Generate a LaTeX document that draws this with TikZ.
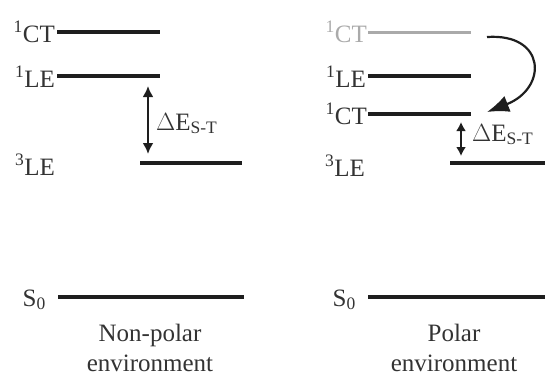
\documentclass[tikz,border=0pt]{standalone}
\usepackage{fontspec}
\setmainfont{Liberation Serif}
\usetikzlibrary{arrows.meta}
\definecolor{lvl}{HTML}{1E1E1E}
\definecolor{txt}{HTML}{333333}
\definecolor{faint}{HTML}{AAAAAA}
\tikzset{
  level/.style={line width=3.6pt, lvl},
  faintlevel/.style={line width=3pt, faint},
  lab/.style={font=\fontsize{25}{27}\selectfont, text=txt, inner sep=0pt, anchor=base east},
  captext/.style={font=\fontsize{25}{30}\selectfont, text=txt, inner sep=0pt, align=center},
  gap/.style={line width=2.6pt, lvl, {Latex[length=11pt,width=11pt]}-{Latex[length=11pt,width=11pt]}},
  smallgap/.style={line width=2.4pt, lvl, {Latex[length=9pt,width=10pt]}-{Latex[length=9pt,width=10pt]}},
  relax/.style={line width=2.2pt, lvl, -{Latex[length=22pt,width=17pt]}},
  dE/.style={font=\fontsize{25}{27}\selectfont, text=txt, inner sep=0pt, anchor=base west}
}
\begin{document}
\begin{tikzpicture}[x=1pt,y=-1pt]
\useasboundingbox (0,0) rectangle (545,376);
% ---------- Non-polar ----------
\coordinate (ctA) at (57,32);  \coordinate (ctB) at (160,32);
\coordinate (leA) at (57,76);  \coordinate (leB) at (160,76);
\coordinate (tA) at (140,163); \coordinate (tB) at (242,163);
\coordinate (sA) at (58,297);  \coordinate (sB) at (244,297);
\draw[level] (ctA) -- (ctB);
\draw[level] (leA) -- (leB);
\draw[level] (tA) -- (tB);
\draw[level] (sA) -- (sB);
\node[lab] (lct) at (55,42) {\textsuperscript{1}CT};
\node[lab] (lle) at (55,87) {\textsuperscript{1}LE};
\node[lab] (lt) at (55,175) {\textsuperscript{3}LE};
\node[lab] (ls) at (46,306) {S\textsubscript{0}};
\coordinate (g1) at (148,86); \coordinate (g2) at (148,154);
\draw[gap] (g1) -- (g2);
\node[dE] (de1) at (156,130) {$\Delta$E\textsubscript{S-T}};
\node[captext] (np) at (150,348) {Non-polar\\environment};
% ---------- Polar ----------
\coordinate (pctA) at (368,32); \coordinate (pctB) at (471,32);
\coordinate (pleA) at (368,76); \coordinate (pleB) at (471,76);
\coordinate (pct2A) at (368,114); \coordinate (pct2B) at (471,114);
\coordinate (ptA) at (450,163); \coordinate (ptB) at (545,163);
\coordinate (psA) at (368,297); \coordinate (psB) at (545,297);
\draw[faintlevel] (pctA) -- (pctB);
\draw[level] (pleA) -- (pleB);
\draw[level] (pct2A) -- (pct2B);
\draw[level] (ptA) -- (ptB);
\draw[level] (psA) -- (psB);
\node[lab, text=faint] (plct) at (367,42) {\textsuperscript{1}CT};
\node[lab] (plle) at (366,87) {\textsuperscript{1}LE};
\node[lab] (plct2) at (367,124) {\textsuperscript{1}CT};
\node[lab] (plt) at (365,176) {\textsuperscript{3}LE};
\node[lab] (pls) at (356,306) {S\textsubscript{0}};
\coordinate (h1) at (461,122); \coordinate (h2) at (461,156);
\draw[smallgap] (h1) -- (h2);
\node[dE] (de2) at (472,141) {$\Delta$E\textsubscript{S-T}};
\coordinate (cs) at (487,37); \coordinate (ce) at (487,112);
\draw[relax] (cs) .. controls (546,33) and (548,88) .. (ce);
\node[captext] (pp) at (454,348) {Polar\\environment};
\end{tikzpicture}
\end{document}
